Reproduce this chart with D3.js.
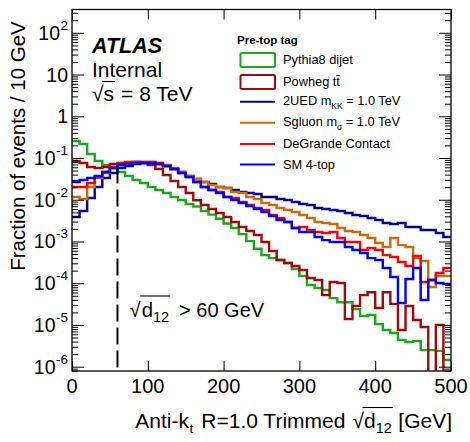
<!DOCTYPE html>
<html><head><meta charset="utf-8">
<script src="https://cdn.jsdelivr.net/npm/d3@7"></script>
<style>
body{margin:0;background:#fff;}
text{font-family:"Liberation Sans",Arial,Helvetica,sans-serif;fill:#000;white-space:pre;}
</style></head><body>
<svg id="c" width="470" height="442"></svg>
<script>
// ---- data (fraction of events per 10 GeV bin, 0..500 GeV) ----
const binEdges = d3.range(0, 500, 10);
const pythiaDijet = [0.255,0.216,0.125,0.0847,0.068,0.0575,0.0462,0.0371,0.0297,0.0252,
 0.0202,0.0171,0.0145,0.0116,0.00986,0.0079,0.0069,0.00537,0.0044,0.0035,
 0.0027,0.0021,0.0015,0.00102,0.00067,0.00047,0.0004,0.00036,0.000305,0.000219,
 0.000149,9.1e-5,7.7e-5,6.9e-5,4.4e-5,3.5e-5,3.5e-5,2.4e-5,1.64e-5,1.73e-5,
 1.05e-5,7.6e-6,6.4e-6,4.4e-6,3.9e-6,4.1e-6,2.5e-6,2.5e-6,2.4e-6,1.45e-6];
const powhegTT = [0.0847,0.0759,0.0608,0.0575,0.0608,0.0718,0.0759,0.0802,0.0802,0.0759,
 0.068,0.0545,0.0392,0.0281,0.0202,0.0145,0.0097,0.00748,0.006,0.00481,
 0.00386,0.00293,0.00222,0.00178,0.00143,0.00097,0.00059,0.00036,0.000305,0.000258,
 0.000207,0.000133,0.000119,5.2e-5,0.000107,0.000101,1.39e-5,2.84e-5,5.2e-5,6.1e-5,
 2.55e-5,6.1e-5,3.2e-5,7.6e-6,2.84e-5,1.31e-5,8.9e-6,0,1.0e-5,0];
const ued2 = [0.00386,0.00537,0.011,0.0202,0.0332,0.0437,0.0575,0.0643,0.0718,0.0759,
 0.0759,0.0718,0.0643,0.0545,0.0462,0.0371,0.0314,0.0266,0.0238,0.0202,
 0.0191,0.0171,0.0153,0.0145,0.0137,0.0116,0.0116,0.0104,0.00986,0.00883,
 0.0079,0.00748,0.00634,0.006,0.00568,0.00537,0.00481,0.0043,0.00407,0.00365,
 0.00327,0.00277,0.00262,0.00277,0.00222,0.00222,0.00188,0.00188,0.0016,0.00128];
const sgluon = [0.0116,0.0104,0.0202,0.0332,0.0437,0.0575,0.068,0.0759,0.0802,0.0802,
 0.0802,0.0759,0.068,0.0575,0.0462,0.0371,0.0314,0.0266,0.0225,0.0202,
 0.0191,0.0153,0.0145,0.0116,0.0104,0.00835,0.00748,0.00634,0.00568,0.00508,
 0.0043,0.00365,0.00293,0.00277,0.00262,0.0021,0.00178,0.00169,0.00143,0.00121,
 0.00092,0.00074,0.00121,0.00082,0.00074,0.0004,0.00034,8.1e-5,0.000149,0.000149];
const deGrande = [0.0202,0.0202,0.0252,0.0351,0.0462,0.0608,0.0718,0.0759,0.0802,0.0802,
 0.0802,0.0759,0.0643,0.0545,0.0437,0.0351,0.0266,0.0202,0.0171,0.0153,
 0.0116,0.011,0.00883,0.00748,0.00634,0.00568,0.0043,0.00365,0.00293,0.0021,
 0.00222,0.00188,0.00169,0.0016,0.00169,0.00121,0.00097,0.00097,0.000625,0.0007,
 0.000625,0.00047,0.000425,0.000322,0.000258,0.00045,0.000107,0.000119,0.000176,0.000231];
const sm4top = [0.0266,0.0297,0.0332,0.0371,0.0462,0.0575,0.068,0.0718,0.0759,0.0759,
 0.0759,0.0718,0.0643,0.0545,0.0437,0.0351,0.0266,0.0202,0.0171,0.0145,
 0.0116,0.00986,0.00835,0.00708,0.006,0.00508,0.00407,0.00327,0.00293,0.0021,
 0.00169,0.00169,0.00128,0.00108,0.00097,0.00097,0.00074,0.000625,0.00053,0.0004,
 0.00036,0.000231,0.000141,3.36e-5,0.000126,0.000231,3.96e-5,0.000119,0.000101,9.6e-5];

const seriesNames = ["Pythia8 dijet","Powheg tt\u0304","2UED","Sgluon","DeGrande Contact","SM 4-top"];
const seriesColors = ["#1fa61f","#a00a0a","#000096","#cc6a10","#ff0000","#0000ff"];
const xTicks = [0,100,200,300,400,500];
const yMajorExp = [2,1,0,-1,-2,-3,-4,-5,-6];
const cutValue = 60;

// ---- layout ----
const L=72, R=451, T=9.5, B=371;
const svg = d3.select("#c");
const x = d3.scaleLinear().domain([0,500]).range([L,R]);
const y = d3.scaleLog().domain([Math.pow(10,-6.103), Math.pow(10,2.558)]).range([B,T]);

svg.append("clipPath").attr("id","clip").append("rect")
  .attr("x",L).attr("y",T).attr("width",R-L).attr("height",B-T);

// rich text helper
function rich(parent, x0, y0, parts, anchor){
  const g = parent.append("g");
  let cx=0; const items=[];
  parts.forEach(p=>{
    cx+=(p.pre||0);
    const t=g.append("text").attr("x",cx).attr("y",p.dy||0)
      .style("font-size",p.size+"px").text(p.t);
    if(p.weight) t.style("font-weight",p.weight);
    if(p.italic) t.style("font-style","italic");
    const w=t.node().getComputedTextLength();
    items.push({x0:cx,w:w,p:p});
    cx+=w;
  });
  const shift = anchor==="end"?-cx:anchor==="middle"?-cx/2:0;
  g.attr("transform",`translate(${x0+shift},${y0})`);
  const ov = items.filter(it=>it.p.over);
  if(ov.length){
    const a=ov[0].x0, b=ov[ov.length-1].x0+ov[ov.length-1].w;
    const lvl = ov[0].p.overY;
    g.append("line").attr("x1",a-1.5).attr("x2",b+1).attr("y1",lvl).attr("y2",lvl)
      .attr("stroke","#000").attr("stroke-width",1.1);
  }
  return g;
}

// ---- histograms ----
const allSeries=[pythiaDijet,powhegTT,ued2,sgluon,deGrande,sm4top];
const line = d3.line()
  .x(d=>x(d[0]))
  .y(d=>d[1]>0?y(d[1]):B+30)
  .curve(d3.curveStepAfter);
const hg = svg.append("g").attr("clip-path","url(#clip)");
allSeries.forEach((s,i)=>{
  const pts = binEdges.map((e,k)=>[e,s[k]]);
  pts.push([500,s[s.length-1]]);
  hg.append("path").attr("d",line(pts)).attr("fill","none")
    .attr("stroke",seriesColors[i]).attr("stroke-width",2.4);
});

// cut line
svg.append("line").attr("x1",x(cutValue)).attr("x2",x(cutValue))
  .attr("y1",y(0.063)).attr("y2",B)
  .attr("stroke","#000").attr("stroke-width",2).attr("stroke-dasharray","17,6");

// ---- axes ----
const minors=[];
for(let n=-7;n<=2;n++) for(let m=2;m<=9;m++){const v=m*Math.pow(10,n); if(v>y.domain()[0]&&v<y.domain()[1]) minors.push(v);}
const majors=yMajorExp.map(e=>Math.pow(10,e));
function styleAxis(g){g.select(".domain").remove(); g.selectAll("line").attr("stroke","#000").attr("stroke-width",1);}
svg.append("g").attr("transform",`translate(${L},0)`)
  .call(d3.axisLeft(y).tickValues(majors).tickSize(-12).tickFormat("")).call(styleAxis);
svg.append("g").attr("transform",`translate(${L},0)`)
  .call(d3.axisLeft(y).tickValues(minors).tickSize(-6).tickFormat("")).call(styleAxis);
svg.append("g").attr("transform",`translate(${R},0)`)
  .call(d3.axisRight(y).tickValues(majors).tickSize(-12).tickFormat("")).call(styleAxis);
svg.append("g").attr("transform",`translate(${R},0)`)
  .call(d3.axisRight(y).tickValues(minors).tickSize(-6).tickFormat("")).call(styleAxis);
svg.append("g").attr("transform",`translate(0,${B})`)
  .call(d3.axisBottom(x).tickValues(xTicks).tickSize(-10).tickFormat("")).call(styleAxis);
svg.append("g").attr("transform",`translate(0,${T})`)
  .call(d3.axisTop(x).tickValues(xTicks).tickSize(-10).tickFormat("")).call(styleAxis);
svg.append("rect").attr("x",L).attr("y",T).attr("width",R-L).attr("height",B-T)
  .attr("fill","none").attr("stroke","#000").attr("stroke-width",1.3);

// tick labels
xTicks.forEach(v=>{
  svg.append("text").attr("x",x(v)).attr("y",393).attr("text-anchor","middle")
    .style("font-size","20px").text(v);
});
yMajorExp.forEach(e=>{
  const yy=y(Math.pow(10,e))+7;
  if(e===0) rich(svg,68,yy,[{t:"1",size:19.5}],"end");
  else if(e===1) rich(svg,68,yy,[{t:"10",size:19.5}],"end");
  else rich(svg,68,yy,[{t:"10",size:19.5},{t:String(e),size:13.5,dy:-10,pre:0.5}],"end");
});

// axis titles
svg.append("text").attr("transform","translate(25,146) rotate(-90)")
  .attr("text-anchor","middle").style("font-size","20.5px").text("Fraction of events / 10 GeV");
rich(svg,452,428,[
  {t:"Anti-k",size:21},{t:"t",size:13.5,dy:5,pre:0.5},{t:"R=1.0 Trimmed",size:21,pre:8},
  {t:"\u221A",size:21,pre:7},{t:"d",size:21,over:true,overY:-20.5},{t:"12",size:14.5,dy:5,over:true,overY:-20.5},
  {t:"[GeV]",size:21,pre:6.5}],"end");

// ATLAS labels
svg.append("text").attr("x",92).attr("y",53).style("font-size","21.5px")
  .style("font-weight","bold").style("font-style","italic").text("ATLAS");
svg.append("text").attr("x",92).attr("y",77).style("font-size","21px").text("Internal");
rich(svg,92,101,[{t:"\u221A",size:21},{t:"s",size:21,over:true,overY:-19.5},{t:"= 8 TeV",size:21,pre:7}],"start");

// cut annotation
rich(svg,129.5,317,[{t:"\u221A",size:20.3},{t:"d",size:20.3,over:true,overY:-21,pre:1},
  {t:"12",size:14.5,dy:5,over:true,overY:-21},{t:"> 60 GeV",size:20,pre:10}],"start");

// ---- legend ----
svg.append("text").attr("x",237).attr("y",43.5).style("font-size","11.5px")
  .style("font-weight","bold").text("Pre-top tag");
const boxY=[53,75];
[0,1].forEach(i=>{
  svg.append("rect").attr("x",240.5).attr("y",boxY[i]).attr("width",34.5).attr("height",14)
    .attr("rx",1.5).attr("fill","#fff").attr("stroke",seriesColors[i]).attr("stroke-width",2);
});
const lineY=[101.7,122.7,144,164.5];
[2,3,4,5].forEach((si,j)=>{
  svg.append("line").attr("x1",240).attr("x2",275).attr("y1",lineY[j]).attr("y2",lineY[j])
    .attr("stroke",seriesColors[si]).attr("stroke-width",2);
});
const LS=12.8, XT=283;
rich(svg,XT,63.5,[{t:"Pythia8 dijet",size:LS}],"start");
rich(svg,XT,86,[{t:"Powheg t",size:LS},{t:"t\u0304",size:LS}],"start");
rich(svg,XT,105,[{t:"2UED m",size:LS},{t:"KK",size:8.5,dy:4},{t:"= 1.0 TeV",size:LS,pre:3.5}],"start");
rich(svg,XT,126,[{t:"Sgluon m",size:LS},{t:"\u03C3",size:8.5,dy:4},{t:"= 1.0 TeV",size:LS,pre:3.5}],"start");
rich(svg,XT,148.3,[{t:"DeGrande Contact",size:LS}],"start");
rich(svg,XT,168.5,[{t:"SM 4-top",size:LS}],"start");
</script></body></html>
